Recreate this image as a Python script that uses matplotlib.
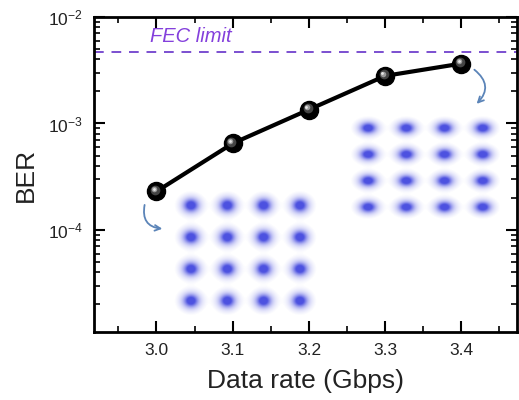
import matplotlib
matplotlib.use("Agg")
import matplotlib.pyplot as plt
import matplotlib.transforms as mtransforms
from matplotlib.ticker import MultipleLocator, LogLocator, NullFormatter
import numpy as np

plt.rcParams['font.family'] = ['Liberation Sans', 'DejaVu Sans']
plt.rcParams['mathtext.fontset'] = 'custom'
plt.rcParams['mathtext.rm'] = 'Liberation Sans'
plt.rcParams['mathtext.it'] = 'Liberation Sans:italic'

# data
data_rate = [3.0, 3.1, 3.2, 3.3, 3.4]
ber = [2.3e-4, 6.5e-4, 1.35e-3, 2.8e-3, 3.65e-3]
fec_limit = 4.7e-3
qam_levels = [-3, -1, 1, 3]

W, H = 519, 400
fig = plt.figure(figsize=(W / 100, H / 100), dpi=100)
ax_l, ax_r, ax_t, ax_b = 94, 517, 17, 332
ax = fig.add_axes([ax_l / W, 1 - ax_b / H, (ax_r - ax_l) / W, (ax_b - ax_t) / H])

ax.set_yscale('log')
ax.set_xlim(2.918, 3.473)
ax.set_ylim(1.1e-5, 1e-2)

# FEC limit
ax.axhline(fec_limit, color='#7b4fd0', lw=1.4, ls=(0, (5, 4)))
ax.text(3.045, 6.6e-3, 'FEC limit', color='#8440dc', fontsize=14.5,
        style='italic', ha='center', va='center')

# curve + "sphere" markers
ax.plot(data_rate, ber, color='black', lw=3, zorder=4)
ax.plot(data_rate, ber, 'o', color='black', ms=13, zorder=5)
for dx, dy, ms, c in [(-1.0, 1.0, 7, '#444444'), (-1.6, 1.6, 4, '#9a9a9a'),
                      (-2.0, 2.0, 2, '#e8e8e8')]:
    tr = mtransforms.offset_copy(ax.transData, fig=fig, x=dx, y=dy, units='points')
    ax.plot(data_rate, ber, 'o', color=c, ms=ms, mec='none', transform=tr, zorder=6)

# ticks / spines
ax.xaxis.set_major_locator(MultipleLocator(0.1))
ax.xaxis.set_minor_locator(MultipleLocator(0.05))
ax.yaxis.set_major_locator(LogLocator(base=10, numticks=10))
ax.yaxis.set_minor_locator(LogLocator(base=10, subs=np.arange(2, 10), numticks=20))
ax.yaxis.set_minor_formatter(NullFormatter())
ax.xaxis.set_major_formatter(matplotlib.ticker.FormatStrFormatter('%.1f'))
ax.tick_params(which='both', direction='in', top=True, right=True, labelsize=12.5,
               labelcolor='#222222')
ax.tick_params(which='major', length=8, width=1.5, pad=8)
ax.tick_params(which='minor', length=4, width=1.2)
for s in ax.spines.values():
    s.set_linewidth(2)

ax.set_xlabel('Data rate (Gbps)', fontsize=19, labelpad=8, color='#222222')
ax.set_ylabel('BER', fontsize=19, labelpad=7, color='#222222')


def px_box(x0, x1, y0, y1):
    # pixel box -> axes fraction bounds
    return [(x0 - ax_l) / (ax_r - ax_l), (ax_b - y1) / (ax_b - ax_t),
            (x1 - x0) / (ax_r - ax_l), (y1 - y0) / (ax_b - ax_t)]


def constellation(bounds):
    ins = ax.inset_axes(bounds)
    ins.set_axis_off()
    ins.patch.set_alpha(0)
    g = np.linspace(-4.2, 4.2, 300)
    X, Y = np.meshgrid(g, g)
    d = np.zeros_like(X)
    for i in qam_levels:
        for q in qam_levels:
            r2 = (X - i) ** 2 + (Y - q) ** 2
            d += np.exp(-r2 / (2 * 0.22 ** 2)) + 0.4 * np.exp(-r2 / (2 * 0.4 ** 2))
    a = np.clip((d - 0.03) / 0.95, 0, 1) ** 0.8
    img = np.zeros(X.shape + (4,))
    img[..., 0] = 0.30
    img[..., 1] = 0.32
    img[..., 2] = 0.88
    img[..., 3] = a
    ins.imshow(img, extent=(-4.2, 4.2, -4.2, 4.2), origin='lower',
               aspect='auto', interpolation='bilinear')
    ins.set_xlim(-4.2, 4.2)
    ins.set_ylim(-4.2, 4.2)
    return ins


constellation(px_box(169, 322, 186, 320))
constellation(px_box(345, 506, 112, 223))

# curved arrows
arrow_kw = dict(arrowstyle='->', color='#5b84b8', lw=1.3, mutation_scale=10)
ax.annotate('', xy=(0.168, 0.327), xytext=(0.121, 0.412), xycoords='axes fraction',
            arrowprops=dict(connectionstyle='arc3,rad=0.6', **arrow_kw))
ax.annotate('', xy=(0.900, 0.718), xytext=(0.894, 0.838), xycoords='axes fraction',
            arrowprops=dict(connectionstyle='arc3,rad=-0.6', **arrow_kw))

fig.savefig('out.png', dpi=100)
